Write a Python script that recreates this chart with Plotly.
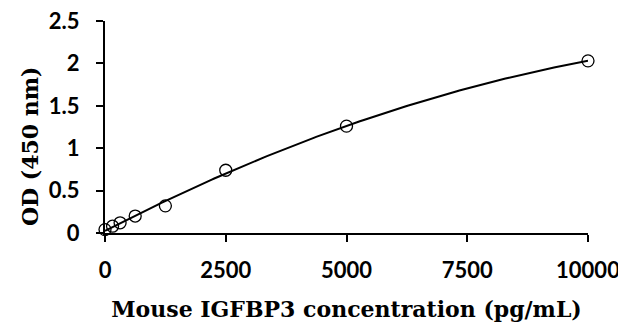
import numpy as np
import plotly.graph_objects as go

conc = [0, 156.25, 312.5, 625, 1250, 2500, 5000, 10000]
od = [0.04, 0.08, 0.12, 0.2, 0.32, 0.74, 1.26, 2.03]
x_ticks = [0, 2500, 5000, 7500, 10000]
y_ticks = [0, 0.5, 1, 1.5, 2, 2.5]
y_tick_labels = ["0", "0.5", "1", "1.5", "2", "2.5"]

# fitted standard curve (quadratic fit of the data)
coef = np.polyfit(conc, od, 2)
xf = np.linspace(0, max(conc), 200)
yf = np.polyval(coef, xf)

fig = go.Figure()
fig.add_trace(go.Scatter(x=xf, y=yf, mode="lines",
                         line=dict(color="black", width=2), hoverinfo="skip",
                         cliponaxis=False))
fig.add_trace(go.Scatter(x=conc, y=od, mode="markers",
                         marker=dict(symbol="circle-open", size=12, color="black",
                                     line=dict(width=1.3, color="black")),
                         cliponaxis=False))

tick_font = dict(family="Lato, Open Sans, sans-serif", size=22, color="black", weight="bold")
title_font = dict(family="DejaVu Serif, Liberation Serif, serif", size=22, color="black")

fig.update_layout(
    width=626, height=332,
    margin=dict(l=97, r=46, t=13, b=107, autoexpand=False),
    paper_bgcolor="white", plot_bgcolor="white",
    showlegend=False,
    annotations=[dict(
        text="<b>OD (450 nm)</b>", textangle=-90,
        xref="paper", yref="paper", x=-75 / 483, y=0.41,
        xanchor="center", yanchor="middle", showarrow=False,
        font=dict(family="DejaVu Serif, Liberation Serif, serif", size=22, color="black"),
    )],
)
fig.update_xaxes(
    range=[0, 10000], tickvals=x_ticks, ticktext=[str(v) for v in x_ticks],
    showgrid=False, zeroline=False, showline=True, linecolor="black", linewidth=2,
    ticks="outside", ticklen=7, tickwidth=2, tickcolor="black", automargin=False,
    tickfont=tick_font, ticklabelstandoff=10, ticklabeloverflow="allow",
    title=dict(text="<b>Mouse IGFBP3 concentration (pg/mL)</b>", font=title_font, standoff=19),
)
fig.update_yaxes(
    range=[0, 2.5], tickvals=y_ticks, ticktext=y_tick_labels,
    showgrid=False, zeroline=False, showline=True, linecolor="black", linewidth=2,
    ticks="outside", ticklen=7, tickwidth=2, tickcolor="black", automargin=False,
    tickfont=tick_font, ticklabelstandoff=12, ticklabeloverflow="allow",
)

fig.write_html("out.html")
